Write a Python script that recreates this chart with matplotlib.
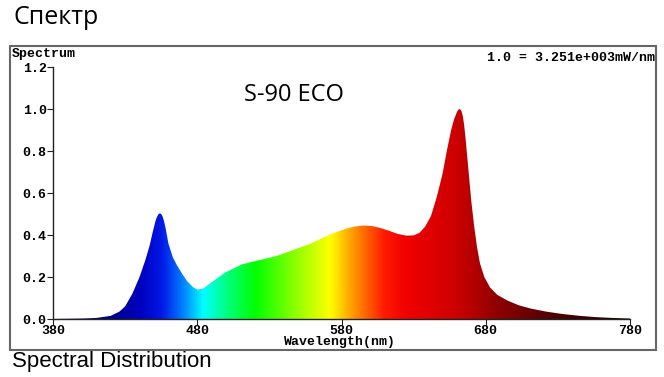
import matplotlib
matplotlib.use('Agg')
import matplotlib.pyplot as plt
import numpy as np
from matplotlib.colors import LinearSegmentedColormap
from matplotlib.patches import Rectangle

# spectrum (relative, 1.0 = 3.251e+003 mW/nm)
wavelength = [380, 400, 410, 420, 426, 430, 435, 440, 444, 447, 449, 451, 452, 453, 454, 455,
              456, 457, 458, 460, 463, 466, 470, 473, 477, 480, 484, 488, 493, 499, 505, 511,
              517, 523, 529, 535, 541, 547, 553, 559, 565, 571, 577, 583, 589, 595, 601, 607,
              613, 619, 625, 630, 634, 638, 642, 646, 650, 653, 656, 658, 660, 661, 662, 663,
              664, 665, 666, 668, 670, 672, 674, 676, 679, 683, 688, 695, 703, 711, 722, 733,
              745, 756, 768, 780]
intensity = [0.0, 0.002, 0.005, 0.015, 0.035, 0.06, 0.12, 0.2, 0.28, 0.35, 0.41, 0.465, 0.485, 0.498, 0.503, 0.5,
             0.488, 0.465, 0.435, 0.36, 0.295, 0.255, 0.21, 0.18, 0.152, 0.14, 0.145, 0.165, 0.19, 0.22, 0.24, 0.26,
             0.27, 0.28, 0.29, 0.30, 0.315, 0.33, 0.345, 0.36, 0.38, 0.40, 0.415, 0.43, 0.44, 0.445, 0.443, 0.433,
             0.42, 0.405, 0.397, 0.398, 0.41, 0.44, 0.49, 0.58, 0.69, 0.80, 0.90, 0.95, 0.985, 0.997, 1.0, 0.993,
             0.97, 0.925, 0.86, 0.71, 0.56, 0.44, 0.34, 0.265, 0.2, 0.15, 0.115, 0.088, 0.065, 0.05, 0.035, 0.024,
             0.015, 0.009, 0.005, 0.002]

x_ticks = [380, 480, 580, 680, 780]
y_ticks = [0.0, 0.2, 0.4, 0.6, 0.8, 1.0, 1.2]

# colour of light along the wavelength axis
spec_nm = [380, 420, 440, 455, 468, 484, 500, 520, 545, 572, 590, 610, 625, 660, 690, 730, 780]
spec_rgb = [(0.0, 0.0, 0.35), (0.0, 0.0, 0.55), (0.0, 0.0, 0.75), (0.0, 0.1, 0.9),
            (0.0, 0.45, 1.0), (0.0, 1.0, 1.0), (0.0, 1.0, 0.5), (0.0, 1.0, 0.0),
            (0.5, 1.0, 0.0), (1.0, 1.0, 0.0), (1.0, 0.55, 0.0), (1.0, 0.1, 0.0),
            (0.95, 0.0, 0.0), (0.8, 0.0, 0.0), (0.55, 0.0, 0.0), (0.3, 0.0, 0.0), (0.1, 0.0, 0.0)]

mono = 'Liberation Mono'

fig = plt.figure(figsize=(6.64, 3.77), dpi=100)
ax = fig.add_axes([53 / 664, 1 - 319 / 377, 577 / 664, 252 / 377])

cmap = LinearSegmentedColormap.from_list(
    'spec', [((n - 380) / 400, c) for n, c in zip(spec_nm, spec_rgb)])
grad = np.linspace(0, 1, 800).reshape(1, -1)
img = ax.imshow(grad, cmap=cmap, extent=[380, 780, 0, 1.2], aspect='auto',
                interpolation='bilinear', zorder=1)
poly = ax.fill_between(wavelength, intensity, 0, color='none', lw=0)
img.set_clip_path(poly.get_paths()[0], transform=ax.transData)

ax.set_xlim(380, 780)
ax.set_ylim(0, 1.2)
ax.set_xticks(x_ticks)
ax.set_yticks(y_ticks)
ax.set_yticklabels([f'{v:.1f}' for v in y_ticks])
for s in ['top', 'right']:
    ax.spines[s].set_visible(False)
for s in ['left', 'bottom']:
    ax.spines[s].set_color('#222222')
    ax.spines[s].set_linewidth(1.0)
ax.tick_params(length=4, width=0.8, color='#222222', pad=0.5, labelsize=9.5)
for lab in ax.get_xticklabels() + ax.get_yticklabels():
    lab.set_fontfamily(mono)
    lab.set_fontweight('bold')

# outer frame
fig.patches.append(Rectangle((10 / 664, 1 - 350 / 377), 646 / 664, 304 / 377,
                             transform=fig.transFigure, fill=False,
                             edgecolor='#666666', lw=1.5))

fig.text(340 / 664, 1 - 342 / 377, 'Wavelength(nm)', fontfamily=mono, fontweight='bold',
         fontsize=9.5, ha='center', va='center')
fig.text(12 / 664, 1 - 54 / 377, 'Spectrum', fontfamily=mono, fontweight='bold',
         fontsize=9.5, va='center')
fig.text(655 / 664, 1 - 58 / 377, '1.0 = 3.251e+003mW/nm', fontfamily=mono,
         fontweight='bold', fontsize=9.5, ha='right', va='center')
fig.text(14 / 664, 1 - 17 / 377, 'Спектр', fontfamily='Open Sans', fontsize=18,
         va='center')
fig.text(294 / 664, 1 - 95 / 377, 'S-90 ECO', fontfamily='Open Sans', fontsize=17,
         ha='center', va='center')
fig.text(12 / 664, 1 - 361 / 377, 'Spectral Distribution', fontfamily='Liberation Sans',
         fontsize=16, va='center')

fig.savefig('out.png', dpi=100)
